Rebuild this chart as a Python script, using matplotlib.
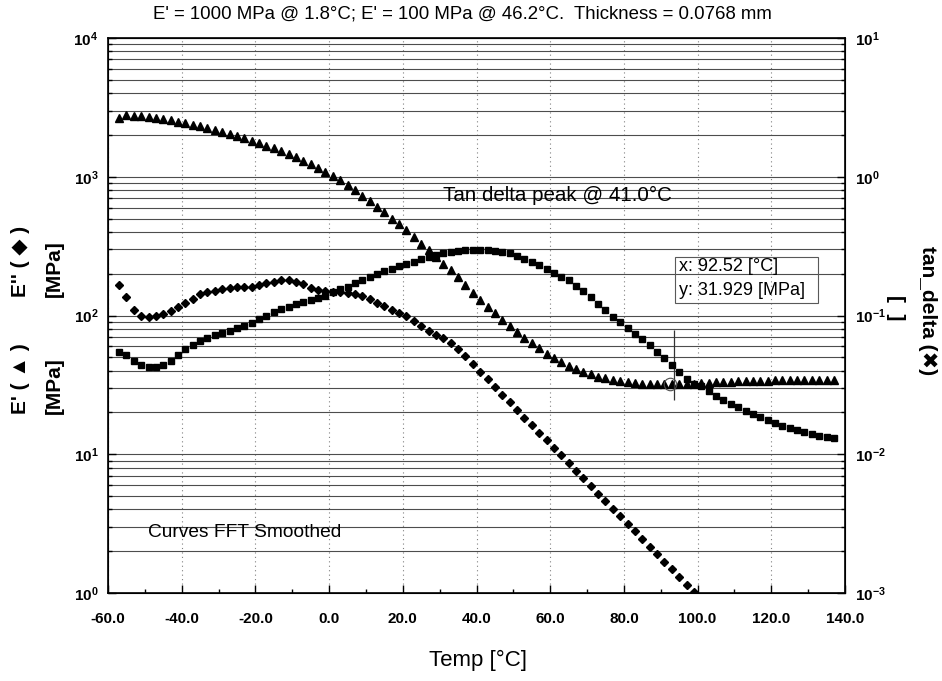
import numpy as np
import matplotlib.pyplot as plt
from matplotlib.ticker import LogLocator, MultipleLocator, FormatStrFormatter, NullFormatter

plt.rcParams['font.family'] = ['Liberation Sans', 'DejaVu Sans']
plt.rcParams['mathtext.default'] = 'regular'

# temperature of each sample [°C]
temp_c = [-57, -55, -53, -51, -49, -47, -45, -43, -41, -39,
          -37, -35, -33, -31, -29, -27, -25, -23, -21, -19,
          -17, -15, -13, -11, -9, -7, -5, -3, -1, 1,
          3, 5, 7, 9, 11, 13, 15, 17, 19, 21,
          23, 25, 27, 29, 31, 33, 35, 37, 39, 41,
          43, 45, 47, 49, 51, 53, 55, 57, 59, 61,
          63, 65, 67, 69, 71, 73, 75, 77, 79, 81,
          83, 85, 87, 89, 91, 93, 95, 97, 99, 101,
          103, 105, 107, 109, 111, 113, 115, 117, 119, 121,
          123, 125, 127, 129, 131, 133, 135, 137]

# storage modulus E' [MPa]
e_storage = [2650, 2800, 2760, 2720, 2680, 2640, 2600, 2550, 2480, 2420,
             2370, 2320, 2240, 2170, 2100, 2030, 1960, 1890, 1810, 1740,
             1670, 1600, 1530, 1450, 1380, 1300, 1230, 1160, 1080, 1020,
             950, 870, 800, 730, 670, 610, 555, 500, 455, 415,
             370, 330, 295, 265, 237, 212, 188, 165, 146, 130,
             116, 104, 93, 84, 76, 69, 63, 58, 53, 49,
             46, 43.5, 41.2, 39.3, 37.7, 36.3, 35.2, 34.3, 33.6, 33.1,
             32.6, 32.3, 32.1, 32.0, 31.9, 31.9, 32.0, 32.1, 32.3, 32.5,
             32.7, 32.9, 33.1, 33.3, 33.5, 33.6, 33.8, 33.9, 34.0, 34.1,
             34.2, 34.3, 34.4, 34.4, 34.5, 34.5, 34.5, 34.4]

# loss modulus E'' [MPa] (falls below the axis after ~99 °C)
nan = np.nan
e_loss = [165, 136, 110, 100, 98, 100, 102, 107, 116, 124,
          132, 142, 148, 151, 155, 158, 160, 160, 161, 166,
          172, 175, 179, 180, 175, 168, 159, 153, 149, 148,
          148, 146, 143, 138, 131, 123, 117, 110, 104, 99,
          91, 84, 77.5, 72.5, 68.5, 63.3, 57, 50.7, 44.7, 39.4,
          34.7, 30.5, 26.9, 23.7, 20.9, 18.4, 16.2, 14.3, 12.6, 11.1,
          9.8, 8.6, 7.6, 6.7, 5.9, 5.2, 4.6, 4.05, 3.57, 3.15,
          2.78, 2.45, 2.16, 1.90, 1.68, 1.48, 1.30, 1.15, 1.02, nan,
          nan, nan, nan, nan, nan, nan, nan, nan, nan, nan,
          nan, nan, nan, nan, nan, nan, nan, nan]

# tan delta [-]
tan_delta = [0.055, 0.052, 0.047, 0.044, 0.0425, 0.0425, 0.044, 0.047, 0.052, 0.057,
             0.061, 0.065, 0.069, 0.072, 0.0745, 0.0775, 0.081, 0.0845, 0.089, 0.094,
             0.099, 0.106, 0.111, 0.116, 0.121, 0.125, 0.129, 0.133, 0.139, 0.147,
             0.155, 0.161, 0.171, 0.180, 0.190, 0.199, 0.208, 0.218, 0.226, 0.237,
             0.245, 0.254, 0.263, 0.273, 0.280, 0.286, 0.292, 0.296, 0.298, 0.298,
             0.295, 0.290, 0.286, 0.280, 0.270, 0.257, 0.245, 0.232, 0.215, 0.201,
             0.191, 0.179, 0.163, 0.151, 0.137, 0.122, 0.109, 0.098, 0.090, 0.081,
             0.074, 0.0675, 0.061, 0.0545, 0.049, 0.044, 0.0393, 0.035, 0.032, 0.0308,
             0.0288, 0.0265, 0.0245, 0.023, 0.0218, 0.0206, 0.0195, 0.0185, 0.0176, 0.0168,
             0.0161, 0.0155, 0.0150, 0.0145, 0.0140, 0.0136, 0.0133, 0.0130]

# cursor readout
cursor_x = 92.52
cursor_y = 31.929

W, H = 942, 681

fig = plt.figure(figsize=(W / 100, H / 100), dpi=100)
ax = fig.add_axes([108 / W, 88 / H, 737 / W, 555 / H])

ax.set_xlim(-60, 140)
ax.set_yscale('log')
ax.set_ylim(1, 1e4)
ax.xaxis.set_major_locator(MultipleLocator(20))
ax.xaxis.set_minor_locator(MultipleLocator(10))
ax.xaxis.set_major_formatter(FormatStrFormatter('%.1f'))
ax.yaxis.set_major_locator(LogLocator(base=10))
ax.yaxis.set_minor_locator(LogLocator(base=10, subs=range(2, 10)))
ax.yaxis.set_minor_formatter(NullFormatter())

# horizontal grid at every log step, dotted vertical grid at major temps
ax.grid(True, axis='y', which='both', color='0.3', lw=0.8)
ax.grid(True, axis='x', which='major', color='0.5', lw=0.8, ls=(0, (1, 3)))
ax.set_axisbelow(True)

ax.tick_params(which='both', direction='in', top=False, right=False, width=1)
ax.tick_params(which='major', length=6)
ax.tick_params(which='minor', length=3)
ax.tick_params(axis='y', labelsize=11, pad=7)
ax.tick_params(axis='x', labelsize=11, pad=14)
for lab in ax.get_xticklabels() + ax.get_yticklabels():
    lab.set_fontweight('bold')
for sp in ax.spines.values():
    sp.set_linewidth(1.2)

ax.plot(temp_c, e_storage, ls='none', marker='^', ms=5.8, color='black', zorder=3)
ax.plot(temp_c, e_loss, ls='none', marker='D', ms=4, color='black', zorder=3)

tw = ax.twinx()
tw.set_yscale('log')
tw.set_ylim(1e-3, 1e1)
tw.yaxis.set_major_locator(LogLocator(base=10))
tw.yaxis.set_minor_locator(LogLocator(base=10, subs=range(2, 10)))
tw.yaxis.set_minor_formatter(NullFormatter())
tw.tick_params(which='both', direction='in', width=1)
tw.tick_params(which='major', length=6)
tw.tick_params(which='minor', length=3)
tw.tick_params(axis='y', labelsize=11, pad=7)
for lab in tw.get_yticklabels():
    lab.set_fontweight('bold')
tw.plot(temp_c, tan_delta, ls='none', marker='s', ms=4.6, color='black', zorder=3)

# cursor
ax.vlines(cursor_x + 1, 24.6, 78.6, color='0.2', lw=0.9, zorder=4)
ax.plot([cursor_x], [cursor_y], ls='none', marker='o', ms=9, mfc='none',
        mec='0.3', mew=0.8, zorder=4)
ax.text(95.0, 225, f'x: {cursor_x:.2f} [°C]', fontsize=13, va='center')
ax.text(95.0, 152, f'y: {cursor_y:.3f} [MPa]', fontsize=13, va='center')
ax.add_patch(plt.Rectangle((93.9, 123), 38.8, 141, fill=False, ec='0.35', lw=0.8, zorder=4))

ax.text(30.9, 738, 'Tan delta peak @ 41.0°C', fontsize=14.8, va='center')
ax.text(-49.1, 2.71, 'Curves FFT Smoothed', fontsize=13.8, va='center')

# titles and axis captions
fig.text(462 / W, 1 - 14 / H,
         "E' = 1000 MPa @ 1.8°C; E' = 100 MPa @ 46.2°C.  Thickness = 0.0768 mm",
         ha='center', va='center', fontsize=13.4)
fig.text(478 / W, 1 - 660 / H, 'Temp [°C]', ha='center', va='center', fontsize=16)

fig.text(20 / W, 1 - 297 / H, "E'' ( ◆ )", rotation=90, ha='center', va='bottom',
         fontsize=15, fontweight='bold')
fig.text(54 / W, 1 - 297 / H, '[MPa]', rotation=90, ha='center', va='bottom',
         fontsize=15, fontweight='bold')
fig.text(20 / W, 1 - 414 / H, "E' ( ▲ )", rotation=90, ha='center', va='bottom',
         fontsize=15, fontweight='bold')
fig.text(54 / W, 1 - 414 / H, '[MPa]', rotation=90, ha='center', va='bottom',
         fontsize=15, fontweight='bold')
fig.text(895 / W, 1 - 308 / H, '[  ]', rotation=270, ha='center', va='center',
         fontsize=15, fontweight='bold')
fig.text(928 / W, 1 - 311 / H, 'tan_delta (✖)', rotation=270, ha='center', va='center',
         fontsize=15, fontweight='bold')

fig.savefig('out.png', dpi=100)
